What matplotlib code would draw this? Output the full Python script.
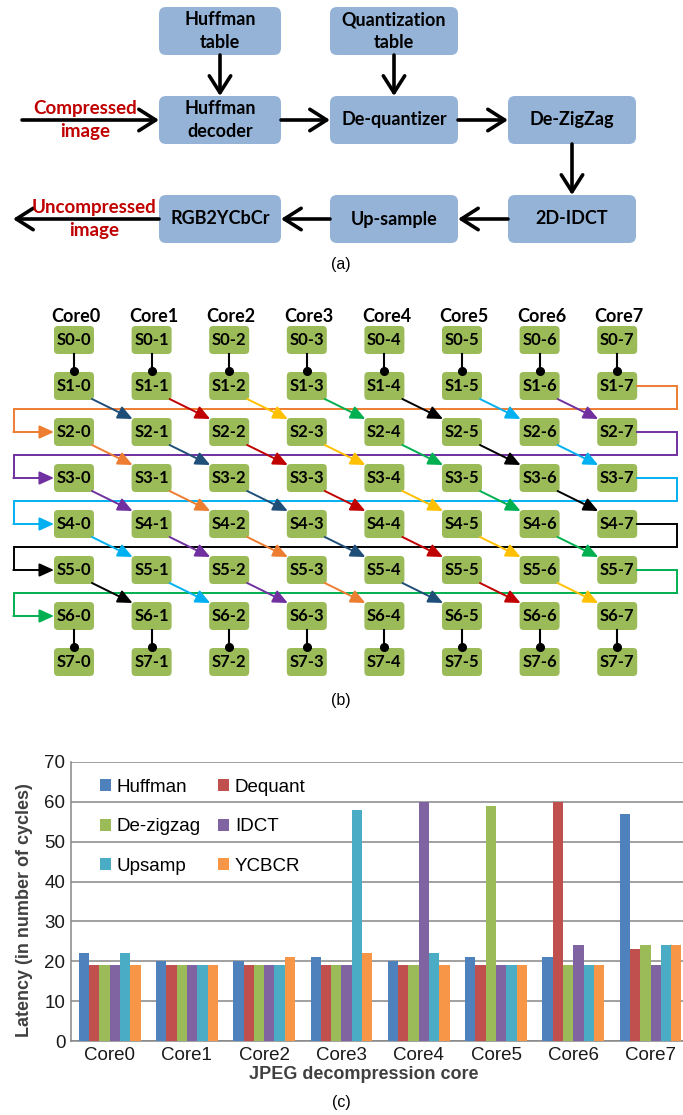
import matplotlib
matplotlib.use("Agg")
import matplotlib.pyplot as plt
from matplotlib.patches import FancyBboxPatch
import numpy as np

# ---- panel (a): decoder pipeline ----
stage_labels = ["Huffman\ntable", "Quantization\ntable", "Huffman\ndecoder", "De-quantizer",
                "De-ZigZag", "2D-IDCT", "Up-sample", "RGB2YCbCr"]
stage_cells = [(0, 0), (1, 0), (0, 1), (1, 1), (2, 1), (2, 2), (1, 2), (0, 2)]  # (col, row)
stage_edges = [(0, 2), (1, 3), (2, 3), (3, 4), (4, 5), (5, 6), (6, 7)]
input_label = "Compressed\nimage"
output_label = "Uncompressed\nimage"

# ---- panel (b): core / stage grid ----
n_cores = 8
n_stages = 8
core_names = ["Core%d" % i for i in range(n_cores)]
ring_colors = ["#1F4E79", "#C00000", "#FFC000", "#00B050", "black", "#00B0F0", "#7030A0", "#ED7D31"]

# ---- panel (c): latency per core ----
cores = ["Core0", "Core1", "Core2", "Core3", "Core4", "Core5", "Core6", "Core7"]
huffman = [22, 20, 20, 21, 20, 21, 21, 57]
dequant = [19, 19, 19, 19, 19, 19, 60, 23]
dezigzag = [19, 19, 19, 19, 19, 59, 19, 24]
idct = [19, 19, 19, 19, 60, 19, 24, 19]
upsamp = [22, 19, 19, 58, 22, 19, 19, 24]
ycbcr = [19, 19, 21, 22, 19, 19, 19, 24]
series_names = ["Huffman", "Dequant", "De-zigzag", "IDCT", "Upsamp", "YCBCR"]
series_colors = ["#4F81BD", "#C0504D", "#9BBB59", "#8064A2", "#4BACC6", "#F79646"]

W, H = 683, 1115
fig = plt.figure(figsize=(W / 100, H / 100), dpi=100)
bg = fig.add_axes([0, 0, 1, 1])
bg.set_xlim(0, W)
bg.set_ylim(H, 0)
bg.axis("off")

diag_font = "Lato"
chart_font = "Liberation Sans"

# panel (a) layout
col_x = [220, 394, 572]
col_w = [122, 128, 128]
row_y = [31, 120, 219]
box_h = 48


def box_geom(i):
    c, r = stage_cells[i]
    return col_x[c], row_y[r], col_w[c] / 2, box_h / 2


for i, lab in enumerate(stage_labels):
    cx, cy, hw, hh = box_geom(i)
    bg.add_patch(FancyBboxPatch((cx - hw, cy - hh), 2 * hw, 2 * hh,
                                boxstyle="round,pad=0,rounding_size=7",
                                fc="#95B3D7", ec="none"))
    bg.text(cx, cy, lab, ha="center", va="center", fontsize=13, fontweight="bold",
            family=diag_font, linespacing=1.4)

big_arrow = dict(arrowstyle="->,head_length=0.55,head_width=0.35", lw=2.6, color="black",
                 shrinkA=0, shrinkB=0, mutation_scale=22)
for a, b in stage_edges:
    ax_, ay_, ahw, ahh = box_geom(a)
    bx_, by_, bhw, bhh = box_geom(b)
    if stage_cells[a][0] == stage_cells[b][0]:
        start, end = (ax_, ay_ + ahh), (bx_, by_ - bhh)
    elif bx_ > ax_:
        start, end = (ax_ + ahw, ay_), (bx_ - bhw, by_)
    else:
        start, end = (ax_ - ahw, ay_), (bx_ + bhw, by_)
    bg.annotate("", xy=end, xytext=start, arrowprops=big_arrow)

cx, cy, hw, hh = box_geom(2)
bg.annotate("", xy=(cx - hw, cy), xytext=(22, cy), arrowprops=big_arrow)
bg.text(85, cy, input_label, ha="center", va="center", color="#C00000", fontsize=13.5,
        fontweight="bold", family=diag_font, linespacing=1.4)
cx, cy, hw, hh = box_geom(7)
bg.annotate("", xy=(13, cy), xytext=(cx - hw, cy), arrowprops=big_arrow)
bg.text(94, cy, output_label, ha="center", va="center", color="#C00000", fontsize=13.5,
        fontweight="bold", family=diag_font, linespacing=1.4)
bg.text(341, 265, "(a)", ha="center", va="center", fontsize=11.5, family=chart_font)

# panel (b) layout
gx0, gdx = 74, 77.6
gy0, gdy = 340, 46
bw, bh = 40, 28
right_x, left_x = 677, 14

for c in range(n_cores):
    x = gx0 + c * gdx
    bg.text(x + 2, gy0 - 23, core_names[c], ha="center", va="center", fontsize=13,
            fontweight="bold", family=diag_font)
    for s in range(n_stages):
        y = gy0 + s * gdy
        bg.add_patch(FancyBboxPatch((x - bw / 2, y - bh / 2), bw, bh,
                                    boxstyle="round,pad=0,rounding_size=4",
                                    fc="#9BBB59", ec="none"))
        bg.text(x, y, "S%d-%d" % (s, c), ha="center", va="center", fontsize=12,
                fontweight="bold", family=diag_font)
    # local links S0->S1 and S6->S7
    for s in (0, 6):
        y1 = gy0 + s * gdy + bh / 2
        y2 = gy0 + (s + 1) * gdy - bh / 2 - 1
        bg.plot([x, x], [y1, y2], color="black", lw=1.5)
        bg.plot(x, y2, "o", color="black", ms=5.5)

small_arrow = dict(arrowstyle="-|>,head_length=0.55,head_width=0.25", lw=1.4,
                   shrinkA=0, shrinkB=0, mutation_scale=16)
for s in range(1, 6):
    y = gy0 + s * gdy
    for c in range(n_cores - 1):
        x = gx0 + c * gdx
        col = ring_colors[(c - (s - 1)) % 8]
        bg.annotate("", xy=(x + gdx - bw / 2 + 1, y + gdy - bh / 2 + 1),
                    xytext=(x + bw / 2 - 2, y + bh / 2 - 1),
                    arrowprops=dict(small_arrow, color=col))
    col = ring_colors[(7 - (s - 1)) % 8]
    x7 = gx0 + 7 * gdx
    ym = y + gdy / 2
    bg.plot([x7 + bw / 2, right_x, right_x, left_x, left_x], [y, y, ym, ym, y + gdy],
            color=col, lw=1.4, solid_joinstyle="miter")
    bg.annotate("", xy=(gx0 - bw / 2, y + gdy), xytext=(left_x - 0.7, y + gdy),
                arrowprops=dict(small_arrow, color=col))
bg.text(341, 700, "(b)", ha="center", va="center", fontsize=11.5, family=chart_font)

# panel (c): bar chart
ax = fig.add_axes([71 / W, (H - 1041) / H, (683 - 71) / W, (1041 - 762) / H])
series = [huffman, dequant, dezigzag, idct, upsamp, ycbcr]
x = np.arange(len(cores))
bar_w = 0.8 / len(series)
handles = []
for k, vals in enumerate(series):
    h = ax.bar(x - 0.4 + bar_w * (k + 0.5), vals, bar_w, color=series_colors[k],
               label=series_names[k], zorder=3)
    handles.append(h)

ax.set_ylim(0, 70)
ax.set_xlim(-0.5, 7.42)
ax.set_yticks(range(0, 71, 10))
ax.set_xticks(x)
ax.set_xticklabels(cores)
ax.grid(axis="y", color="#868686", lw=1.1, zorder=0)
for side in ("top", "right"):
    ax.spines[side].set_visible(False)
for side in ("left", "bottom"):
    ax.spines[side].set_color("#868686")
    ax.spines[side].set_linewidth(1.1)
ax.tick_params(length=0, labelsize=13.5, colors="#1a1a1a", pad=4)
for lab in ax.get_xticklabels() + ax.get_yticklabels():
    lab.set_family(chart_font)
ax.set_ylabel("Latency (in number of cycles)", fontsize=13, fontweight="bold",
              color="#404040", family=chart_font, labelpad=8)
ax.yaxis.set_label_coords(-0.062, 0.47)
ax.set_xlabel("JPEG decompression core", fontsize=13, fontweight="bold",
              color="#404040", family=chart_font, labelpad=2)
ax.xaxis.set_label_coords(0.479, -0.09)

order = [0, 2, 4, 1, 3, 5]
ax.legend([handles[i] for i in order], [series_names[i] for i in order], ncol=2,
          loc="upper left", bbox_to_anchor=(0.02, 1.0), frameon=False,
          prop={"family": chart_font, "size": 13.5}, handlelength=0.6, handleheight=0.6,
          handletextpad=0.3, labelspacing=1.2, columnspacing=0.9)

fig.text(341 / W, 1 - 1102 / H, "(c)", ha="center", va="center", fontsize=11.5,
         family=chart_font)

fig.savefig("out.png", dpi=100)
